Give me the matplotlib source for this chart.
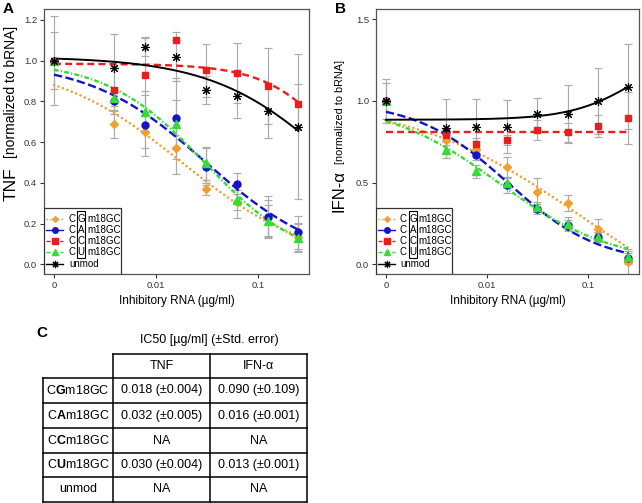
import numpy as np
import matplotlib
matplotlib.use("Agg")
import matplotlib.pyplot as plt
from matplotlib.patches import Rectangle
from matplotlib.lines import Line2D
from matplotlib.ticker import NullLocator

plt.rcParams["font.family"] = ["Liberation Sans", "DejaVu Sans"]
plt.rcParams["mathtext.fontset"] = "custom"
plt.rcParams["mathtext.rm"] = "Liberation Sans"
plt.rcParams["mathtext.bf"] = "Liberation Sans:bold"
plt.rcParams["lines.scale_dashes"] = False

#
# Data
#
doses = [0, 0.0039, 0.0078, 0.0156, 0.03125, 0.0625, 0.125, 0.25]
zero_pos = 0.001  # where dose 0 is drawn on the log axis

series = ["CG", "CA", "CC", "CU", "unmod"]
legend_letters = ["G", "A", "C", "U"]

# TNF (panel A), mean and std
tnf_cg = [1.0, 0.688, 0.651, 0.573, 0.368, 0.307, 0.227, 0.133]
tnf_ca = [1.0, 0.803, 0.683, 0.717, 0.479, 0.396, 0.234, 0.157]
tnf_cc = [1.0, 0.856, 0.930, 1.100, 0.954, 0.941, 0.876, 0.786]
tnf_cu = [1.0, 0.815, 0.750, 0.688, 0.496, 0.316, 0.210, 0.130]
tnf_unmod = [1.0, 0.963, 1.069, 1.020, 0.856, 0.828, 0.754, 0.676]
tnf_cg_err = [0.0, 0.07, 0.08, 0.13, 0.03, 0.08, 0.09, 0.07]
tnf_ca_err = [0.0, 0.05, 0.15, 0.20, 0.09, 0.05, 0.10, 0.08]
tnf_cc_err = [0.14, 0.12, 0.18, 0.0, 0.13, 0.147, 0.185, 0.10]
tnf_cu_err = [0.0, 0.04, 0.10, 0.12, 0.08, 0.05, 0.08, 0.07]
tnf_unmod_err = [0.22, 0.17, 0.045, 0.12, 0.07, 0.11, 0.135, 0.355]

# IFN-alpha (panel B), mean and std
ifn_cg = [1.0, 0.760, 0.705, 0.595, 0.440, 0.375, 0.216, 0.016]
ifn_ca = [1.0, 0.810, 0.670, 0.486, 0.337, 0.240, 0.165, 0.040]
ifn_cc = [1.0, 0.790, 0.735, 0.761, 0.822, 0.808, 0.847, 0.898]
ifn_cu = [1.0, 0.700, 0.570, 0.496, 0.353, 0.247, 0.169, 0.043]
ifn_unmod = [1.0, 0.833, 0.843, 0.843, 0.920, 0.920, 1.000, 1.088]
ifn_cg_err = [0.11, 0.03, 0.05, 0.06, 0.09, 0.05, 0.06, 0.08]
ifn_ca_err = [0.0, 0.02, 0.03, 0.05, 0.03, 0.03, 0.03, 0.03]
ifn_cc_err = [0.0, 0.03, 0.04, 0.03, 0.06, 0.06, 0.07, 0.16]
ifn_cu_err = [0.0, 0.05, 0.04, 0.03, 0.03, 0.04, 0.03, 0.04]
ifn_unmod_err = [0.133, 0.18, 0.17, 0.16, 0.10, 0.18, 0.20, 0.26]

# fitted log-logistic curves: (upper, lower, ED50, slope)
tnf_fit = [(1.0, 0.0, 0.018, 0.69), (1.0, 0.0, 0.031, 0.76),
           (0.985, 0.0, 0.85, 1.17), (1.0, 0.0, 0.030, 0.90),
           (1.02, 0.0, 0.55, 0.74)]
ifn_fit = [(1.02, -0.45, 0.09, 0.50), (1.0, 0.0, 0.016, 0.955),
           (0.808, 0.808, 1.0, 1.0), (1.0, 0.0, 0.013, 0.767),
           (0.885, 1.385, 0.334, 1.3)]

# IC50 table (panel C)
table_rows = [r"C$\mathbf{G}$m18GC", r"C$\mathbf{A}$m18GC", r"C$\mathbf{C}$m18GC",
              r"C$\mathbf{U}$m18GC", "unmod"]
table_tnf = ["0.018 (±0.004)", "0.032 (±0.005)", "NA", "0.030 (±0.004)", "NA"]
table_ifn = ["0.090 (±0.109)", "0.016 (±0.001)", "NA", "0.013 (±0.001)", "NA"]

#
# Styles
#
colors = ["#F0A030", "#1414C8", "#EE1C1C", "#33DD33", "black"]
markers = ["D", "o", "s", "^", (8, 2, 0)]
msizes = [3.6, 5, 5, 5.5, 6.5]
mews = [1.0, 1.0, 1.0, 1.0, 0.8]
curve_styles = [
    dict(ls=(0, (0.01, 3.4)), dash_capstyle="round", lw=1.9),
    dict(ls=(0, (6, 2.5)), lw=1.7),
    dict(ls=(0, (5, 3)), lw=1.7),
    dict(ls=(0, (3.4, 1.6, 0.9, 1.6)), lw=1.7),
    dict(ls="-", lw=1.4),
]
legend_styles = [
    dict(ls=(0, (1.2, 1.5))), dict(ls="-"), dict(ls=(0, (3, 2))),
    dict(ls=(0, (3, 2))), dict(ls="-"),
]
xlim = (10 ** (-3.098), 0.25 * 10 ** 0.105)


def loglogistic(x, p):
    d, c, e, b = p
    return c + (d - c) / (1 + (x / e) ** b)


def draw_legend(ax):
    ax.add_patch(Rectangle((0, 0), 0.29, 0.249, transform=ax.transAxes,
                           fc="white", ec="#333333", lw=0.9, zorder=5))
    ys = [0.2075, 0.166, 0.125, 0.083, 0.038]
    for i, y in enumerate(ys):
        ax.add_artist(Line2D([0.006, 0.072], [y, y], transform=ax.transAxes,
                             color=colors[i], lw=1, zorder=6, **legend_styles[i]))
        ax.add_artist(Line2D([0.042], [y], transform=ax.transAxes, ls="none",
                             marker=markers[i], color=colors[i],
                             ms=msizes[i] * 0.8, mew=mews[i], zorder=7))
        if i < 4:
            ax.text(0.091, y, "C", transform=ax.transAxes, fontsize=7,
                    va="center", ha="left", zorder=7)
            ax.text(0.140, y, legend_letters[i], transform=ax.transAxes,
                    fontsize=7, va="center", ha="center", zorder=7)
            ax.text(0.162, y, "m18GC", transform=ax.transAxes, fontsize=7,
                    va="center", ha="left", zorder=7)
        else:
            ax.text(0.094, y, "unmod", transform=ax.transAxes, fontsize=7,
                    va="center", ha="left", zorder=7)
    ax.add_patch(Rectangle((0.124, 0.06), 0.032, 0.176, transform=ax.transAxes,
                           fill=False, ec="black", lw=0.8, zorder=7))


def draw_panel(ax, means, errs, fits, ylim, yticks):
    x = np.array([zero_pos if d == 0 else d for d in doses])
    xs = np.geomspace(zero_pos, doses[-1], 200)
    for i in range(len(series)):
        ax.errorbar(x, means[i], yerr=errs[i], fmt="none", ecolor="#ABABAB",
                    elinewidth=0.85, capsize=3, capthick=0.85, zorder=1)
    for i in range(len(series)):
        ax.plot(xs, loglogistic(xs, fits[i]), color=colors[i], zorder=2,
                **curve_styles[i])
    for i in range(len(series)):
        ax.plot(x, means[i], ls="none", marker=markers[i], ms=msizes[i],
                color=colors[i], mew=mews[i], zorder=3)
    ax.set_xscale("log")
    ax.set_xlim(xlim)
    ax.set_ylim(ylim)
    ax.set_xticks([0.001, 0.01, 0.1])
    ax.set_xticklabels(["0", "0.01", "0.1"])
    ax.xaxis.set_minor_locator(NullLocator())
    ax.set_yticks(yticks)
    ax.set_yticklabels(["%.1f" % v for v in yticks])
    ax.tick_params(labelsize=6.8, length=3, width=0.8, pad=2,
                   colors="#333333")
    for s in ax.spines.values():
        s.set_color("#555555")
        s.set_linewidth(0.9)
    draw_legend(ax)


fig = plt.figure(figsize=(6.42, 5.03), dpi=100)

# overlay in pixel coordinates for labels and the table
ov = fig.add_axes([0, 0, 1, 1])
ov.set_xlim(0, 642)
ov.set_ylim(503, 0)
ov.axis("off")

ax_a = fig.add_axes([44 / 642, 1 - 274 / 503, 265 / 642, 265 / 503])
ax_b = fig.add_axes([376 / 642, 1 - 274 / 503, 263 / 642, 265 / 503])

draw_panel(ax_a, [tnf_cg, tnf_ca, tnf_cc, tnf_cu, tnf_unmod],
           [tnf_cg_err, tnf_ca_err, tnf_cc_err, tnf_cu_err, tnf_unmod_err],
           tnf_fit, (-0.048, 1.254), [0.0, 0.2, 0.4, 0.6, 0.8, 1.0, 1.2])
draw_panel(ax_b, [ifn_cg, ifn_ca, ifn_cc, ifn_cu, ifn_unmod],
           [ifn_cg_err, ifn_ca_err, ifn_cc_err, ifn_cu_err, ifn_unmod_err],
           ifn_fit, (-0.059, 1.563), [0.0, 0.5, 1.0, 1.5])

# panel letters and axis labels
ov.text(8, 9, "A", fontsize=11, fontweight="bold", ha="center", va="center")
ov.text(340, 9, "B", fontsize=11, fontweight="bold", ha="center", va="center")
ov.text(42, 333, "C", fontsize=11, fontweight="bold", ha="center", va="center")

ov.text(11, 184, "TNF", fontsize=12.5, rotation=90, ha="center", va="center")
ov.text(11, 92, "[normalized to bRNA]", fontsize=10, rotation=90,
        ha="center", va="center")
ov.text(339, 191, "IFN-α", fontsize=12, rotation=90, ha="center", va="center")
ov.text(340, 112, "[normalized to bRNA]", fontsize=7.8, rotation=90,
        ha="center", va="center")

ov.text(176.5, 301, "Inhibitory RNA (µg/ml)", fontsize=8.5, ha="center",
        va="center")
ov.text(507.5, 301, "Inhibitory RNA (µg/ml)", fontsize=8.5, ha="center",
        va="center")

# IC50 table
ov.text(209, 340, "IC50 [µg/ml] (±Std. error)", fontsize=9, ha="center",
        va="center")
col_x = [43, 113, 210, 307]
row_y = [354, 378, 403, 428, 453, 477, 502]
lw_t = 1.1
for y in row_y[1:]:
    ov.plot([col_x[0], col_x[-1]], [y, y], color="black", lw=lw_t)
ov.plot([col_x[1], col_x[-1]], [row_y[0], row_y[0]], color="black", lw=lw_t)
ov.plot([col_x[0], col_x[0]], [row_y[1], row_y[-1]], color="black", lw=lw_t)
for cx in col_x[1:]:
    ov.plot([cx, cx], [row_y[0], row_y[-1]], color="black", lw=lw_t)

centers = [(col_x[i] + col_x[i + 1]) / 2 for i in range(3)]
ov.text(centers[1], (row_y[0] + row_y[1]) / 2, "TNF", fontsize=9,
        ha="center", va="center")
ov.text(centers[2], (row_y[0] + row_y[1]) / 2, "IFN-α", fontsize=9,
        ha="center", va="center")
for r in range(len(table_rows)):
    yc = (row_y[r + 1] + row_y[r + 2]) / 2
    ov.text(centers[0], yc, table_rows[r], fontsize=9, ha="center", va="center")
    ov.text(centers[1], yc, table_tnf[r], fontsize=9, ha="center", va="center")
    ov.text(centers[2], yc, table_ifn[r], fontsize=9, ha="center", va="center")

fig.savefig("out.png", dpi=100)
